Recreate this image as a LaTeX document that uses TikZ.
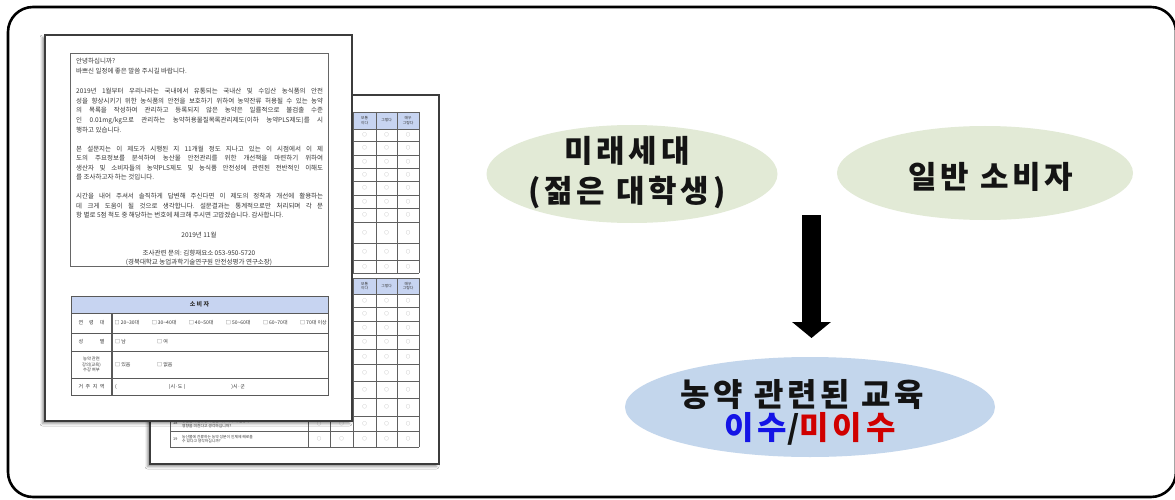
\documentclass[tikz,border=0pt]{standalone}
\usepackage{fontspec}
\setmainfont{Noto Sans CJK KR}
\newfontfamily\krwide{Noto Sans CJK KR}[LetterSpace=12]
\usetikzlibrary{shapes.geometric,arrows.meta,shadows.blur}
\definecolor{ellgreen}{HTML}{E2EAD6}
\definecolor{ellblue}{HTML}{C3D6EC}
\definecolor{hdrblue}{HTML}{C7D4F1}
\definecolor{txtblue}{HTML}{1414E6}
\definecolor{txtred}{HTML}{D00000}
\definecolor{pageline}{HTML}{3C3C3C}
\definecolor{doctext}{HTML}{353535}
\newcommand\jl[1]{\makebox[247pt][s]{#1}}
\frenchspacing
\begin{document}
\begin{tikzpicture}[x=1pt,y=-1pt,
  page/.style={rectangle, draw=pageline, line width=1.3pt, fill=white, inner sep=0pt,
    blur shadow={shadow xshift=-2.5pt, shadow yshift=-2.5pt, shadow blur radius=2.5pt, shadow opacity=45}},
  ell/.style={ellipse, inner sep=0pt, draw=none},
  bigtxt/.style={inner sep=0pt, align=center, text=black!92, font=\krwide\bfseries\fontsize{31}{40}\selectfont},
  hugetxt/.style={inner sep=0pt, text=black!92, text height=26pt, text depth=1pt, font=\krwide\bfseries\fontsize{32}{36}\selectfont},
  docl/.style={anchor=base west, inner sep=0pt, text=doctext, font=\fontsize{6.5}{7}\selectfont},
  docc/.style={anchor=base, inner sep=0pt, text=doctext, font=\fontsize{6.5}{7}\selectfont},
  ftxt/.style={inner sep=0pt, text=doctext, align=center, font=\fontsize{5}{5.8}\selectfont},
  cell/.style={inner sep=0pt, text=doctext, align=center, font=\fontsize{3.8}{4.4}\selectfont},
  circ/.style={inner sep=0pt, text=gray, font=\fontsize{4.5}{5}\selectfont},
  tline/.style={draw=gray!75!black, line width=0.5pt},
  fline/.style={draw=gray!70!black, line width=0.8pt},
]
\useasboundingbox (0,0) rectangle (1175,500);
\fill[white] (0,0) rectangle (1175,500);
\draw[line width=2.6pt, rounded corners=25pt] (8,7) rectangle (1176,497);

% ---------- back page ----------
\node[page, minimum width=289pt, minimum height=369pt] (back) at (294.5,279.5) {};
% table 1
\fill[hdrblue] (170,112) rectangle (419,129);
\foreach \yy in {112,129,141.5,155,168.5,181.5,195,208.5,222,243,260,273}
  \draw[tline] (170,\yy) -- (419,\yy);
\foreach \xx in {170,308,330,353,376,397,419}
  \draw[tline] (\xx,112) -- (\xx,273);
\node[cell] (ha3) at (364.5,120.5) {보통\\이다};
\node[cell] (ha4) at (386.5,120.5) {그렇다};
\node[cell] (ha5) at (408,120.5) {매우\\그렇다};
\foreach \yy [count=\k] in {135.25,148.25,161.75,175,188.25,201.75,215.25,232.5,251.5,266.5} {
  \node[circ] (ca3\k) at (364.5,\yy) {○};
  \node[circ] (ca4\k) at (386.5,\yy) {○};
  \node[circ] (ca5\k) at (408,\yy) {○};
}
% table 2
\fill[hdrblue] (170,278) rectangle (419,294);
\foreach \yy in {278,294,307,321,335,349,364,381,398,416,431,447}
  \draw[tline] (170,\yy) -- (419,\yy);
\foreach \xx in {170,308,330,353,376,397,419}
  \draw[tline] (\xx,278) -- (\xx,447);
\node[cell] (hb3) at (364.5,286) {보통\\이다};
\node[cell] (hb4) at (386.5,286) {그렇다};
\node[cell] (hb5) at (408,286) {매우\\그렇다};
\foreach \yy [count=\k] in {300.5,314,328,342,356.5,372.5,389.5,407} {
  \node[circ] (cb3\k) at (364.5,\yy) {○};
  \node[circ] (cb4\k) at (386.5,\yy) {○};
  \node[circ] (cb5\k) at (408,\yy) {○};
}
\foreach \yy [count=\k] in {423.5,439} {
  \node[circ] (cc1\k) at (319,\yy) {○};
  \node[circ] (cc2\k) at (341.5,\yy) {○};
  \node[circ] (cc3\k) at (364.5,\yy) {○};
  \node[circ] (cc4\k) at (386.5,\yy) {○};
  \node[circ] (cc5\k) at (408,\yy) {○};
}
\node[cell, anchor=west] (qn18) at (173,423.5) {18};
\node[cell, anchor=west, align=left] (qt18) at (182,423.5) {농산물의 잔류농약 검출 여부가 구매 결정에\\영향을 미친다고 생각하십니까?};
\node[cell, anchor=west] (qn19) at (173,439) {19};
\node[cell, anchor=west, align=left] (qt19) at (182,439) {농산물에 잔류하는 농약 성분이 인체에 해로울\\수 있다고 생각하십니까?};

% ---------- front page ----------
\node[page, minimum width=307pt, minimum height=386pt] (front) at (198.5,228) {};
\node[rectangle, draw=gray!80!black, line width=0.8pt, minimum width=258pt, minimum height=213pt, inner sep=0pt] (tbox) at (199,159.5) {};
\node[docl] (l1) at (76,64) {안녕하십니까?};
\node[docl] (l2) at (76,74) {바쁘신 일정에 좋은 말씀 주시길 바랍니다.};
\node[docl] (l4) at (76,94) {\jl{2019년 1월부터 우리나라는 국내에서 유통되는 국내산 및 수입산 농식품의 안전}};
\node[docl] (l5) at (76,103.5) {\jl{성을 향상시키기 위한 농식품의 안전을 보호하기 위하여 농약잔류 허용될 수 있는 농약}};
\node[docl] (l6) at (76,113) {\jl{의 목록을 작성하여 관리하고 등록되지 않은 농약은 일률적으로 불검출 수준}};
\node[docl] (l7) at (76,122.5) {\jl{인 0.01mg/kg으로 관리하는 농약허용물질목록관리제도(이하 농약PLS제도)를 시}};
\node[docl] (l8) at (76,132) {행하고 있습니다.};
\node[docl] (l10) at (76,151) {\jl{본 설문지는 이 제도가 시행된 지 11개월 정도 지나고 있는 이 시점에서 이 제}};
\node[docl] (l11) at (76,160.5) {\jl{도의 주요정보를 분석하여 농산물 안전관리를 위한 개선책을 마련하기 위하여}};
\node[docl] (l12) at (76,170) {\jl{생산자 및 소비자들의 농약PLS제도 및 농식품 안전성에 관련된 전반적인 이해도}};
\node[docl] (l13) at (76,179.5) {를 조사하고자 하는 것입니다.};
\node[docl] (l15) at (76,198.5) {\jl{시간을 내어 주셔서 솔직하게 답변해 주신다면 이 제도의 정착과 개선에 활용하는}};
\node[docl] (l16) at (76,208) {\jl{데 크게 도움이 될 것으로 생각합니다. 설문결과는 통계적으로만 처리되며 각 문}};
\node[docl] (l17) at (76,217.5) {항 별로 5점 척도 중 해당하는 번호에 체크해 주시면 고맙겠습니다. 감사합니다.};
\node[docc] (l19) at (199,237) {2019년 11월};
\node[docc] (l21) at (199,255) {조사관련 문의: 김향재요소 053-950-5720};
\node[docc] (l22) at (199,264.5) {(경북대학교 농업과학기술연구원 안전성평가 연구소장)};

% front table
\fill[hdrblue] (71,296) rectangle (328,313);
\draw[fline] (71,296) rectangle (328,395);
\foreach \yy in {313,333,351,378} \draw[fline] (71,\yy) -- (328,\yy);
\draw[fline, line width=1.4pt] (112,313) -- (112,395);
\node[ftxt, font=\bfseries\fontsize{6}{7}\selectfont] (fh) at (199.5,304.5) {소 비 자};
\node[ftxt] (fl1) at (91.5,323) {\makebox[26pt]{연\hfill 령\hfill 대}};
\node[ftxt] (fl2) at (91.5,342) {\makebox[26pt]{성\hfill 별}};
\node[ftxt, font=\fontsize{4.3}{5.6}\selectfont] (fl3) at (91.5,364.5) {농약 관련\\강의(교육)\\수강 여부};
\node[ftxt] (fl4) at (91.5,386.5) {\makebox[26pt]{거\hfill 주\hfill 지\hfill 역}};
\node[ftxt, anchor=west] (fo1) at (114.5,323) {\makebox[212pt]{□ 20\textasciitilde30대\hfill □ 30\textasciitilde40대\hfill □ 40\textasciitilde50대\hfill □ 50\textasciitilde60대\hfill □ 60\textasciitilde70대\hfill □ 70대 이상}};
\node[ftxt, anchor=west] (fo2a) at (115,342) {□ 남};
\node[ftxt, anchor=west] (fo2b) at (157,342) {□ 여};
\node[ftxt, anchor=west] (fo3a) at (115,364.5) {□ 있음};
\node[ftxt, anchor=west] (fo3b) at (157,364.5) {□ 없음};
\node[ftxt, anchor=west] (fo4) at (115,386.5) {(\hspace{52pt})시·도 (\hspace{46pt})시·군};

% ---------- right side ----------
\node[ell, fill=ellgreen, minimum width=291pt, minimum height=98pt] (mirae) at (632,174) {};
\node[bigtxt] (miraeT) at (627,173) {미래세대\\(젊은 대학생)};
\node[ell, fill=ellgreen, minimum width=296pt, minimum height=94pt] (ilban) at (985,173) {};
\node[bigtxt] (ilbanT) at (991,177) {일반 소비자};
\node[ell, fill=ellblue, minimum width=370pt, minimum height=100pt] (nong) at (810,407) {};
\node[hugetxt] (nongT1) at (802,394) {농약 관련된 교육};
\node[hugetxt] (nongT2) at (810,427) {{\color{txtblue}이수}/{\color{txtred}미이수}};

\coordinate (arrS) at (811.5,215);
\coordinate (arrE) at (811.5,338);
\draw[line width=19pt, -{Triangle[length=16pt,width=38pt]}] (arrS) -- (arrE);
\end{tikzpicture}
\end{document}
